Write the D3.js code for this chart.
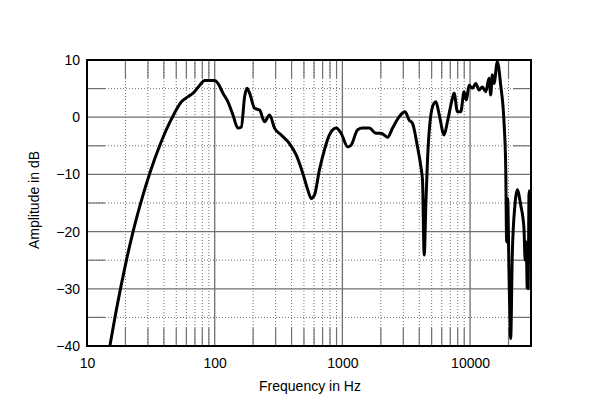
<!DOCTYPE html>
<html><head><meta charset="utf-8">
<script src="https://cdn.jsdelivr.net/npm/d3@7"></script>
<style>body{margin:0;background:#fff}svg{display:block}text{font-family:"Liberation Sans",Arial,sans-serif;fill:#000}</style>
</head><body><svg id="c" width="600" height="409"></svg>
<script>
// Frequency (Hz) and amplitude (dB)
const freqs = [15.1,16.55,18.67,20.4,23.0,26.8,31.1,37.2,45.9,54.9,61.9,67.7,76.4,83.5,100,106.1,116.1,127,139,152,161.7,171.6,178.8,187.7,205.4,224.7,245.9,269,294.3,331.9,385.4,434.8,489.6,535.6,569.5,604.3,661.2,723.5,791.5,892.9,977,1100,1169,1317,1441,1625,1834,2006,2259,2472,2788,3090,3337,3541,3876,4119,4240,4372,4508,4640,5077,5395,5725,6265,6648,7273,7499,7960,8458,8977,9357,9822,10423,11080,11757,12479,13267,14074,14512,14937,15401,16342,17373,18432,19005,19349,19700,20167,20796,21404,22467,23417,24892,26416,27000,27530,28035,28300,28543,28900,29500];
const amps = [-40,-35.0,-29.0,-24.9,-19.9,-14.4,-9.7,-4.9,-0.3,2.7,3.6,4.2,5.6,6.4,6.4,5.9,4.2,2.7,0.4,-1.9,-1.7,3.6,5.05,4.2,1.55,1.26,-0.8,0.4,-1.9,-3.1,-4.6,-6.6,-9.8,-12.7,-14.2,-13.6,-9.2,-5.7,-3.1,-1.9,-2.8,-5.2,-4.9,-2.2,-1.9,-1.9,-2.8,-2.8,-3.5,-1.9,0.1,0.96,-0.5,-1.07,-5.2,-8.65,-11.0,-24.1,-15.05,-7.5,1.8,2.7,0.5,-3.1,-0.8,3.3,4.2,0.96,0.96,4.46,3.0,5.6,5.05,5.9,4.76,5.3,4.46,6.8,3.9,7.4,5.9,9.7,5.6,-0.8,-8.4,-21.8,-14.2,-27.0,-38.7,-24.1,-15.3,-12.7,-15.3,-19.4,-25,-21.8,-29.9,-22,-30,-13.6,-12.7];
const xTicks = [10,100,1000,10000];
const yTicks = [-40,-30,-20,-10,0,10];
const xLabel = "Frequency in Hz";
const yLabel = "Amplitude in dB";

const svg = d3.select("#c");
const L=87,R=531,T=60,B=346;
const x = d3.scaleLog().domain([10,30000]).range([L,R]);
const y = d3.scaleLinear().domain([-40,10]).range([B,T]);
const g = svg.append("g");
const grey="#707070";

// minor vertical lines
const minorX=[];
for(let d=10; d<=10000; d*=10) for(let k=2;k<=9;k++){const v=k*d; if(v<30000) minorX.push(v);}
minorX.forEach(v=>{
  g.append("line").attr("x1",x(v)).attr("x2",x(v)).attr("y1",T).attr("y2",B).attr("stroke",grey).attr("stroke-width",1).attr("stroke-dasharray","1,2");
  g.append("line").attr("x1",x(v)).attr("x2",x(v)).attr("y1",T).attr("y2",T+18).attr("stroke",grey).attr("stroke-width",1.2);
  g.append("line").attr("x1",x(v)).attr("x2",x(v)).attr("y1",B-18).attr("y2",B).attr("stroke",grey).attr("stroke-width",1.2);
});
// minor horizontal
[-35,-25,-15,-5,5].forEach(v=>{
  g.append("line").attr("x1",L).attr("x2",R).attr("y1",y(v)).attr("y2",y(v)).attr("stroke",grey).attr("stroke-width",1).attr("stroke-dasharray","1,2");
  g.append("line").attr("x1",L).attr("x2",L+18).attr("y1",y(v)).attr("y2",y(v)).attr("stroke",grey).attr("stroke-width",1.2);
  g.append("line").attr("x1",R-18).attr("x2",R).attr("y1",y(v)).attr("y2",y(v)).attr("stroke",grey).attr("stroke-width",1.2);
});
// major
xTicks.forEach(v=>g.append("line").attr("x1",x(v)).attr("x2",x(v)).attr("y1",T).attr("y2",B).attr("stroke",grey).attr("stroke-width",1.3));
yTicks.forEach(v=>g.append("line").attr("x1",L).attr("x2",R).attr("y1",y(v)).attr("y2",y(v)).attr("stroke",grey).attr("stroke-width",1.3));

// curve
const line = d3.line().x(d=>x(d[0])).y(d=>y(d[1])).curve(d3.curveMonotoneX);
const data = freqs.map((f,i)=>[f,amps[i]]);
svg.append("defs").append("clipPath").attr("id","cp").append("rect").attr("x",L).attr("y",T-3).attr("width",R-L).attr("height",B-T+3);
svg.append("path").datum(data).attr("d",line).attr("fill","none").attr("stroke","#000").attr("stroke-width",3).attr("stroke-linejoin","round").attr("clip-path","url(#cp)");

// frame
svg.append("rect").attr("x",L).attr("y",T).attr("width",R-L).attr("height",B-T).attr("fill","none").attr("stroke","#000").attr("stroke-width",2);

// axes labels
const xa = d3.axisBottom(x).tickValues(xTicks).tickFormat(d3.format("d")).tickSize(0).tickPadding(12);
const xg = svg.append("g").attr("transform",`translate(0,${B})`).call(xa);
xg.select(".domain").remove();
xg.selectAll("text").attr("font-size",14).attr("font-family","Liberation Sans, Arial, sans-serif");
const ya = d3.axisLeft(y).tickValues(yTicks).tickSize(0).tickPadding(7);
const yg = svg.append("g").attr("transform",`translate(${L},0)`).call(ya);
yg.select(".domain").remove();
yg.selectAll("text").attr("font-size",14).attr("font-family","Liberation Sans, Arial, sans-serif");

svg.append("text").attr("x",310).attr("y",391).attr("text-anchor","middle").attr("font-size",14).text(xLabel);
svg.append("text").attr("transform","translate(39,200) rotate(-90)").attr("text-anchor","middle").attr("font-size",14).text(yLabel);
</script></body></html>
